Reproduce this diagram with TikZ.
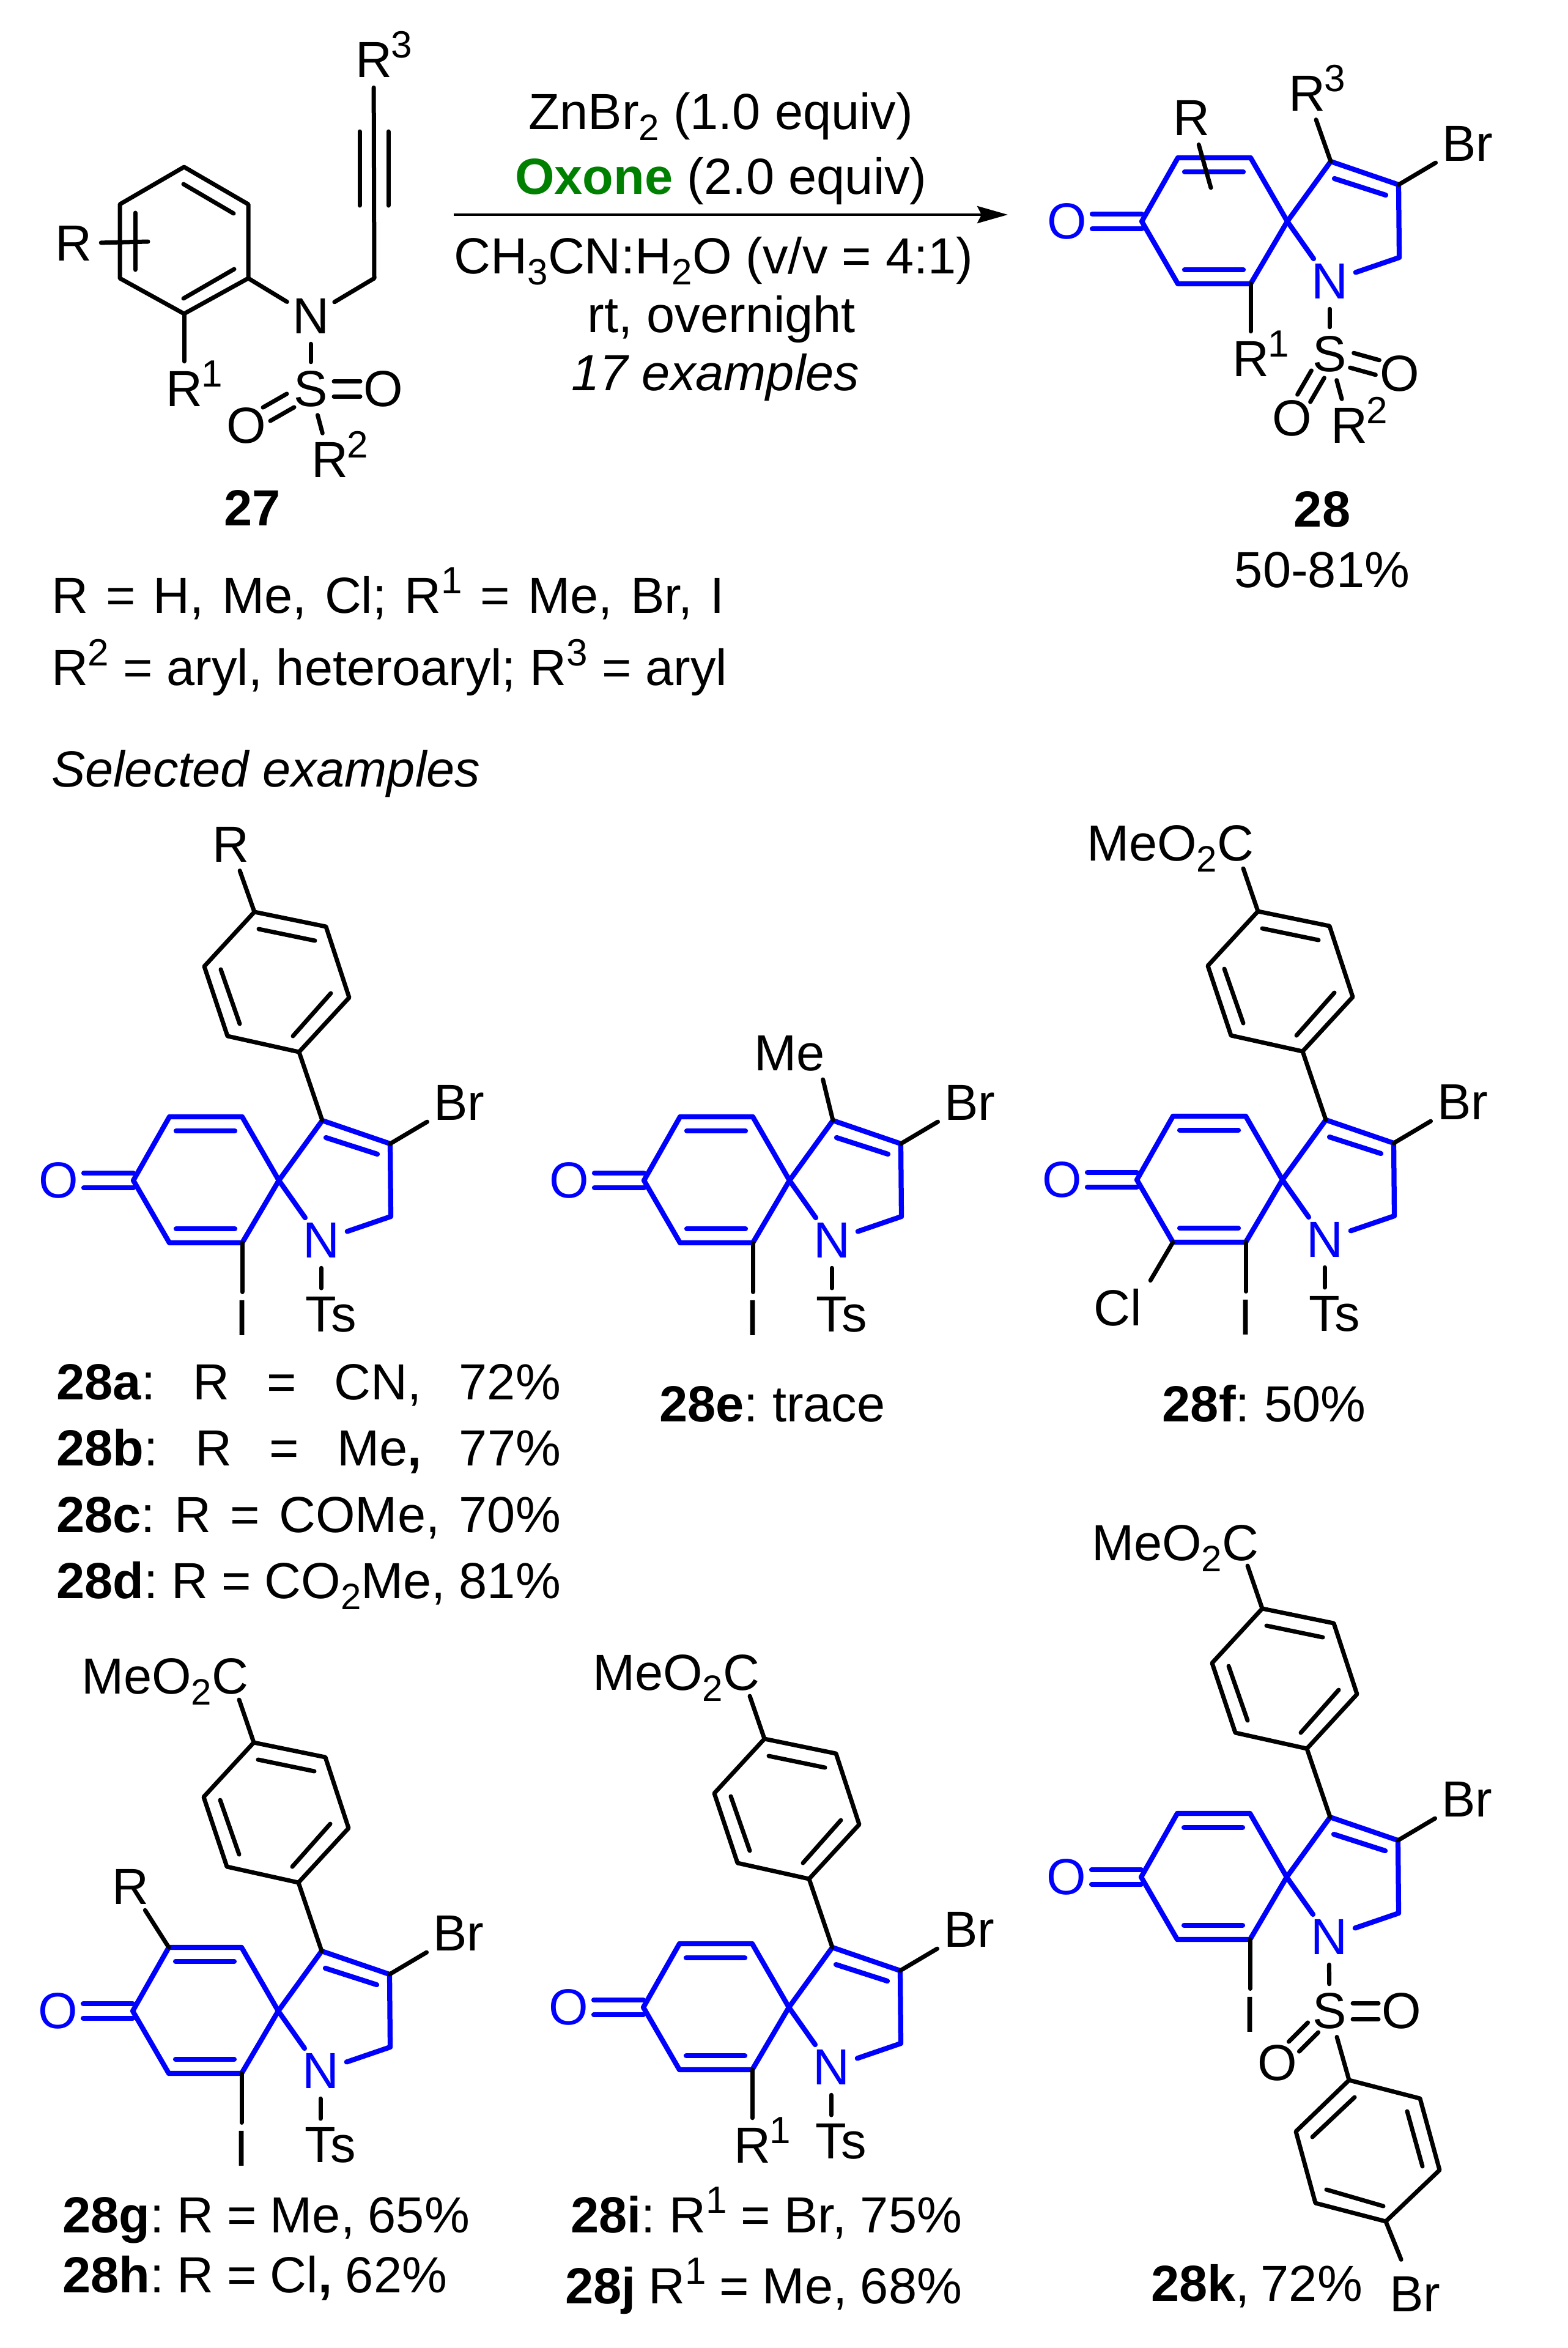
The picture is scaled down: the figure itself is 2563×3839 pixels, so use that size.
\documentclass[tikz,border=0pt]{standalone}
\usepackage{fontspec}
\setmainfont{Liberation Sans}
\usetikzlibrary{arrows.meta}
\definecolor{ringblue}{RGB}{0,0,255}
\definecolor{oxgreen}{RGB}{0,128,0}

\newcommand{\subs}[1]{\raisebox{-3.6pt}{\fontsize{12}{12}\selectfont #1}}
\newcommand{\sups}[1]{\raisebox{6.4pt}{\fontsize{12.4}{12.4}\selectfont #1}}
\newcommand{\just}[2]{\makebox[\dimexpr#1pt/5\relax][s]{#2}}

\tikzset{
    bond/.style={line width=1.4pt, line cap=round, line join=round},
    ring/.style={bond, line width=1.65pt, ringblue},
    sbond/.style={bond, shorten <=7.6pt, shorten >=7.6pt},
    atom/.style={circle, inner sep=.4pt},
    bratom/.style={circle, inner sep=1.4pt},
    blueatom/.style={atom, text=ringblue},
    tag/.style={inner sep=2.6pt},
    ctext/.style={anchor=base, inner sep=0pt},
    ltext/.style={anchor=base west, inner sep=0pt},
    supnum/.style={inner sep=0pt, font=\fontsize{12.4}{12.4}\selectfont}
}

\newcommand{\rlabel}[3]{
    \node[atom](#1) at (#2) {R};
    \node[supnum](#1s) at ([shift={(46,-25)}]#1.center) {#3};
}
\newcommand{\sobond}[4]{
    \draw[sbond] ([shift={(#3,#4)}]#1.center) -- ([shift={(#3,#4)}]#2.center);
    \draw[sbond] ([shift={({-1*(#3)},{-1*(#4)})}]#1.center) -- ([shift={({-1*(#3)},{-1*(#4)})}]#2.center);
}
\newcommand{\spirocore}[2]{
    \begin{scope}[shift={(#2)}]
        \coordinate (#1sp) at (0,0);
        \coordinate (#1co) at (-238,0);
        \coordinate (#1tl) at (-179,-104);
        \coordinate (#1tr) at (-60,-104);
        \coordinate (#1br) at (-60,102);
        \coordinate (#1bl) at (-179,102);
        \coordinate (#1c3) at (71,-98);
        \coordinate (#1c4) at (182,-60);
        \coordinate (#1ch) at (183,59);
        \coordinate (#1i1) at (-168,-81);
        \coordinate (#1i2) at (-72,-81);
        \coordinate (#1i3) at (-168,79);
        \coordinate (#1i4) at (-72,79);
        \coordinate (#1i5) at (77,-70);
        \coordinate (#1i6) at (161,-43);
        \node[blueatom](#1n) at (69,98) {N};
        \node[blueatom](#1o) at (-360,0) {O};
        \node[bratom](#1bb) at (295,-127) {Br};

        \draw[ring] (#1co) -- (#1tl) -- (#1tr) -- (#1sp) -- (#1br) -- (#1bl) -- cycle;
        \draw[ring] (#1sp) -- (#1c3) -- (#1c4) -- (#1ch) -- (#1n);
        \draw[ring] (#1sp) -- (#1n);
        \draw[ring] (#1i1) -- (#1i2);
        \draw[ring] (#1i3) -- (#1i4);
        \draw[ring] (#1i5) -- (#1i6);
        \draw[ring, shorten <=8.2pt] ([yshift=2.4pt]#1o.center) -- ([yshift=2.4pt]#1co);
        \draw[ring, shorten <=8.2pt] ([yshift=-2.4pt]#1o.center) -- ([yshift=-2.4pt]#1co);
        \draw[bond] (#1c4) -- (#1bb);
    \end{scope}
}
\newcommand{\arylring}[1]{
    \begin{scope}[shift={(#1sp)}]
        \coordinate (#1a1) at (-40,-439);
        \coordinate (#1a2) at (77,-415);
        \coordinate (#1a3) at (115,-299);
        \coordinate (#1a4) at (33,-210);
        \coordinate (#1a5) at (-84,-236);
        \coordinate (#1a6) at (-122,-350);
        \coordinate (#1j1) at (-33,-411);
        \coordinate (#1j2) at (59,-392);
        \coordinate (#1j3) at (85,-306);
        \coordinate (#1j4) at (23,-236);
        \coordinate (#1j5) at (-95,-345);
        \coordinate (#1j6) at (-64,-256);
        \draw[bond] (#1a1) -- (#1a2) -- (#1a3) -- (#1a4) -- (#1a5) -- (#1a6) -- cycle;
        \draw[bond] (#1j1) -- (#1j2);
        \draw[bond] (#1j3) -- (#1j4);
        \draw[bond] (#1j5) -- (#1j6);
        \draw[bond] (#1a4) -- (#1c3);
    \end{scope}
}
\newcommand{\esterlabel}[2]{
    \node[ltext](#1me) at (#2) {MeO\subs{2}C};
    \coordinate (#1mc) at ([shift={(-24,-70)}]#1a1);
    \draw[bond] (#1a1) -- (#1mc);
}
\newcommand{\iodo}[1]{
    \node[tag](#1io) at ([shift={(-60,225)}]#1sp) {I};
    \draw[bond] (#1br) -- (#1io.north);
}
\newcommand{\tosyl}[1]{
    \node[tag](#1ts) at ([shift={(85,219)}]#1sp) {Ts};
    \draw[bond] (#1n.south) -- (#1n.south |- #1ts.north);
}

\begin{document}
\begin{tikzpicture}[x=0.2pt, y=-0.2pt, font=\fontsize{16.6}{19}\selectfont\frenchspacing]
    \useasboundingbox (0,0) rectangle (2563,3839);

    \coordinate (b1) at (301,273);
    \coordinate (b2) at (406,334);
    \coordinate (b3) at (406,455);
    \coordinate (b4) at (301,513);
    \coordinate (b5) at (196,455);
    \coordinate (b6) at (196,334);
    \coordinate (d1) at (300,301);
    \coordinate (d2) at (382,349);
    \coordinate (d3) at (383,440);
    \coordinate (d4) at (300,488);
    \coordinate (d5) at (221,348);
    \coordinate (d6) at (221,441);
    \coordinate (rend) at (242,395);
    \coordinate (ch2) at (612,455);
    \coordinate (t1) at (588,215);
    \coordinate (t2) at (588,336);
    \coordinate (t3) at (635,215);
    \coordinate (t4) at (635,336);
    \node[atom](rsub) at (120,398) {R};
    \rlabel{rone}{301,636}{1}
    \rlabel{rtwo}{539,752}{2}
    \rlabel{rthree}{611,98}{3}
    \node[atom](nsm) at (508,517) {N};
    \node[atom](ssm) at (508,636) {S};
    \node[atom](oright) at (627,636) {O};
    \node[atom](oleft) at (403,696) {O};
    \node[ctext](lab27) at (413,859) {\textbf{27}};

    \draw[bond] (b1) -- (b2) -- (b3) -- (b4) -- (b5) -- (b6) -- cycle;
    \draw[bond] (d1) -- (d2);
    \draw[bond] (d3) -- (d4);
    \draw[bond] (d5) -- (d6);
    \draw[bond] (rsub) -- (rend);
    \draw[bond] (b4) -- (rone);
    \draw[bond] (b3) -- (nsm);
    \draw[bond] (nsm) -- (ch2) -- (rthree);
    \draw[bond] (t1) -- (t2);
    \draw[bond] (t3) -- (t4);
    \draw[bond] (nsm) -- (ssm);
    \draw[bond] (ssm) -- (rtwo);
    \sobond{ssm}{oright}{0}{12.5}
    \sobond{ssm}{oleft}{6}{11}

    \coordinate (arrstart) at (742,351);
    \coordinate (arrtip) at (1648,351);
    \draw[line width=.9pt, -{Stealth[length=10pt, width=5.6pt, inset=1.4pt]}] (arrstart) -- (arrtip);
    \node[ctext](cond1) at (1179,211) {ZnBr\subs{2} (1.0 equiv)};
    \node[ctext](cond2) at (1179,317) {\textcolor{oxgreen}{\textbf{Oxone}} (2.0 equiv)};
    \node[ctext](cond3) at (1167,447) {CH\subs{3}CN:H\subs{2}O (v/v = 4:1)};
    \node[ctext](cond4) at (1180,543) {rt, overnight};
    \node[ctext](cond5) at (1170,638) {\textit{17 examples}};

    \spirocore{p}{2105,362}
    \node[atom](pr) at (1948,193) {R};
    \coordinate (prend) at (1980,307);
    \draw[bond] (pr) -- (prend);
    \rlabel{pone}{2045,587}{1}
    \rlabel{ptwo}{2206,696}{2}
    \rlabel{pthree}{2137,153}{3}
    \node[atom](ps) at (2174,579) {S};
    \node[atom](poa) at (2289,611) {O};
    \node[atom](pob) at (2113,684) {O};
    \draw[bond] (pc3) -- (pthree);
    \draw[bond] (pbr) -- (pone);
    \draw[bond] (pn) -- (ps);
    \draw[bond] (ps) -- (ptwo);
    \sobond{ps}{poa}{3}{-12}
    \sobond{ps}{pob}{10.5}{6}
    \node[ctext](lab28) at (2162,861) {\textbf{28}};
    \node[ctext](yield28) at (2162,960) {50-81\%};

    \node[ltext](rlist1) at (83,1002) {\just{1101}{R = H, Me, Cl; R\sups{1} = Me, Br, I}};
    \node[ltext](rlist2) at (83,1120) {\just{1105}{R\sups{2} = aryl, heteroaryl; R\sups{3} = aryl}};
    \node[ltext](selected) at (83,1286) {\textit{Selected examples}};

    \spirocore{a}{456,1930}
    \arylring{a}
    \node[atom](ar) at (377,1381) {R};
    \draw[bond] (aa1) -- (ar);
    \iodo{a}
    \tosyl{a}
    \node[ltext](laba) at (91,2288) {\just{825}{\textbf{28a}: R = CN, 72\%}};
    \node[ltext](labb) at (91,2396) {\just{825}{\textbf{28b}: R = Me\textbf{,} 77\%}};
    \node[ltext](labc) at (91,2505) {\just{825}{\textbf{28c}: R = COMe, 70\%}};
    \node[ltext](labd) at (91,2613) {\just{825}{\textbf{28d}: R = CO\subs{2}Me, 81\%}};

    \spirocore{e}{1291,1930}
    \node[tag](eme) at (1291,1722) {Me};
    \draw[bond] (ec3) -- ([xshift=-3.4pt]eme.south east);
    \iodo{e}
    \tosyl{e}
    \node[ctext](labe) at (1263,2324) {\textbf{28e}: trace};

    \spirocore{f}{2097,1929}
    \arylring{f}
    \esterlabel{f}{1776,1407}
    \node[tag](fcl) at (1828,2138) {Cl};
    \draw[bond] (fbl) -- (fcl.north east);
    \iodo{f}
    \tosyl{f}
    \node[ctext](labf) at (2067,2324) {\textbf{28f}: 50\%};

    \spirocore{g}{455,3288}
    \arylring{g}
    \esterlabel{g}{132,2769}
    \node[atom](gr) at (213,3085) {R};
    \draw[bond] (gtl) -- (gr);
    \iodo{g}
    \tosyl{g}
    \node[ltext](labg) at (101,3650) {\just{666}{\textbf{28g}: R = Me, 65\%}};
    \node[ltext](labh) at (101,3748) {\just{629}{\textbf{28h}: R = Cl\textbf{,} 62\%}};

    \spirocore{i}{1290,3282}
    \arylring{i}
    \esterlabel{i}{968,2763}
    \rlabel{ione}{1230,3508}{1}
    \draw[bond] (ibr) -- (ione);
    \tosyl{i}
    \node[ltext](labi) at (932,3650) {\just{640}{\textbf{28i}: R\sups{1} = Br, 75\%}};
    \node[ltext](labj) at (923,3766) {\just{649}{\textbf{28j} R\sups{1} = Me, 68\%}};

    \spirocore{k}{2104,3069}
    \arylring{k}
    \esterlabel{k}{1784,2551}
    \iodo{k}
    \node[atom](ks) at (2174,3288) {S};
    \node[atom](koa) at (2292,3288) {O};
    \node[atom](kob) at (2089,3373) {O};
    \draw[bond] (kn) -- (ks);
    \sobond{ks}{koa}{0}{13}
    \sobond{ks}{kob}{8.5}{8}
    \coordinate (kb1) at (2206,3401);
    \coordinate (kb2) at (2322,3431);
    \coordinate (kb3) at (2354,3548);
    \coordinate (kb4) at (2266,3632);
    \coordinate (kb5) at (2151,3602);
    \coordinate (kb6) at (2119,3485);
    \coordinate (kd1) at (2215,3429);
    \coordinate (kd2) at (2146,3494);
    \coordinate (kd3) at (2301,3452);
    \coordinate (kd4) at (2326,3542);
    \coordinate (kd5) at (2262,3607);
    \coordinate (kd6) at (2169,3580);
    \node[bratom](kbr2) at (2314,3751) {Br};
    \draw[bond] (ks) -- (kb1);
    \draw[bond] (kb1) -- (kb2) -- (kb3) -- (kb4) -- (kb5) -- (kb6) -- cycle;
    \draw[bond] (kd1) -- (kd2);
    \draw[bond] (kd3) -- (kd4);
    \draw[bond] (kd5) -- (kd6);
    \draw[bond] (kb4) -- (kbr2);
    \node[ltext](labk) at (1881,3762) {\just{346}{\textbf{28k}, 72\%}};
\end{tikzpicture}
\end{document}
